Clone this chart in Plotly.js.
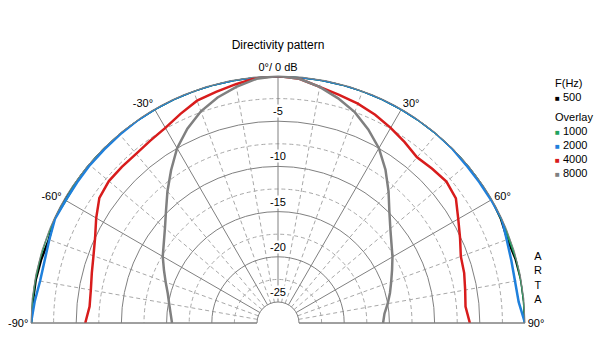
<!DOCTYPE html>
<html><head><meta charset="utf-8">
<script src="https://cdn.plot.ly/plotly-3.0.1.min.js"></script>
<style>html,body{margin:0;padding:0;background:#fff}</style>
</head><body><div id="chart" style="width:609px;height:357px"></div>
<script>
// ---- data ----
const angles = [-90,-85,-80,-75,-70,-65,-60,-55,-50,-45,-40,-35,-30,-25,-20,-15,-10,-5,0,5,10,15,20,25,30,35,40,45,50,55,60,65,70,75,80,85,90];
const f500  = [0,-0.1,-0.1,-0.2,-0.35,0,0,0,0,0,0,0,0,0,0,0,0,0,0,0,0,0,0,0,0,0,0,0,0,0,0,-0.1,-0.3,-0.1,0,0,0];
const f1000 = [0,0,0,0,0,0,-0.2,-0.1,0,0,0,0,0,0,0,0,0,0,0,0,0,0,0,0,0,0,0,0,0,0,0,-0.05,-0.1,0,0,0,0];
const f2000 = [0,-0.3,-0.6,-0.6,-0.4,-0.1,-0.2,-0.2,-0.15,-0.15,-0.1,-0.05,0,0,0,0,0,0,0,0,0,0,0,0,0,0,0,-0.05,-0.15,-0.15,-0.1,0,-0.4,-0.6,-0.7,-0.6,0];
const f4000 = [-6.0,-6.4,-6.3,-6.0,-5.6,-5.0,-4.1,-3.2,-2.9,-2.9,-2.9,-2.7,-2.4,-1.8,-1.15,-0.85,-0.5,-0.1,0,-0.2,-0.8,-1.2,-1.5,-1.9,-2.4,-2.9,-3.4,-3.2,-3.0,-3.3,-4.3,-5.1,-5.8,-6.0,-6.3,-6.5,-6.1];
const f8000 = [-15.6,-15.4,-15.1,-14.7,-14.1,-13.4,-12.6,-11.9,-11.0,-9.8,-8.3,-6.7,-5.0,-3.6,-2.4,-1.5,-0.8,-0.2,0,-0.2,-0.8,-1.6,-2.5,-3.7,-5.0,-6.6,-8.3,-9.9,-11.1,-12.0,-12.7,-13.4,-14.0,-14.5,-15.0,-15.5,-15.7];
const seriesNames = ['500','1000','2000','4000','8000'];
const seriesColors = ['#000000','#1fa35f','#1f80dc','#d81c1c','#808080'];

const radialMajor = [-25,-20,-15,-10,-5];
const radialMajorText = ['-25','-20','-15','-10','-5'];
const radialMinor = [-22.5,-17.5,-12.5,-7.5,-2.5];
const angleMajor = [-90,-60,-30,0,30,60,90];
const angleMajorText = ['-90°','-60°','-30°','0°/ 0 dB','30°','60°','90°'];
const angleMinor = [-80,-70,-50,-40,-20,-10,10,20,40,50,70,80];

// ---- layout geometry ----
const W=609, H=357, cx=278, cy=323, R=247, holePx=21;
const rRange=[-25,0];
const hole = holePx/R;
const domX=[(cx-R)/W,(cx+R)/W], domY=[(H-cy)/H,(H-cy+R)/H];
const FONT = 'Liberation Sans, Arial, sans-serif';

// empty trace so that the dashed-grid subplot is created
const data = [{type:'scatterpolar', subplot:'polar', mode:'lines', r:[], theta:[], showlegend:false, hoverinfo:'skip'}];
[f500,f1000,f2000,f4000,f8000].forEach((vals,i)=>data.push({
  type:'scatterpolar', subplot:'polar2', mode:'lines',
  r: vals, theta: angles, name: seriesNames[i],
  line:{color:seriesColors[i], width:2.5}, showlegend:false, hoverinfo:'skip'
}));

const base = {domain:{x:domX,y:domY}, sector:[0,180], hole:hole};
const layout = {
  width:W, height:H, margin:{l:0,r:0,t:0,b:0},
  paper_bgcolor:'#fff', showlegend:false,
  font:{family:FONT, size:11, color:'#000'},
  title:{text:'Directivity pattern', x:cx/W, xref:'paper', xanchor:'center', y:1-45/H, yanchor:'middle', font:{family:FONT,size:12,color:'#000'}},
  polar:Object.assign({}, base, {
    bgcolor:'#fff',
    radialaxis:{range:rRange, tickmode:'array', tickvals:radialMinor, showticklabels:false, ticks:'', showline:false, gridcolor:'#a8a8a8', gridwidth:1, griddash:'4px,3px'},
    angularaxis:{rotation:90, direction:'clockwise', tickmode:'array', tickvals:angleMinor, showticklabels:false, ticks:'', showline:false, gridcolor:'#a8a8a8', gridwidth:1, griddash:'4px,3px'}
  }),
  polar2:Object.assign({}, base, {
    bgcolor:'rgba(0,0,0,0)',
    radialaxis:{range:rRange, tickmode:'array', tickvals:radialMajor, showticklabels:false, ticks:'', showline:false, gridcolor:'#808080', gridwidth:1},
    angularaxis:{rotation:90, direction:'clockwise', tickmode:'array', tickvals:angleMajor, ticktext:angleMajorText, ticks:'', showline:true, linecolor:'#808080', linewidth:1, gridcolor:'#808080', gridwidth:1, tickfont:{family:FONT,size:11,color:'#000'}}
  }),
  annotations:[]
};

// radial tick labels along the 0° spoke
radialMajor.forEach((t,i)=>{
  const rpx = holePx + (t-rRange[0])/(rRange[1]-rRange[0])*(R-holePx);
  layout.annotations.push({xref:'paper', yref:'paper', x:cx/W, y:(H-cy+rpx)/H, yshift:10, xanchor:'center', yanchor:'middle',
    text:radialMajorText[i], showarrow:false, bgcolor:'#fff', borderpad:0, font:{family:FONT,size:11,color:'#000'}});
});

// legend block
const legX = 553/W;
function legText(txt, ypx){ layout.annotations.push({xref:'paper',yref:'paper',x:legX,y:1-ypx/H,xanchor:'left',yanchor:'middle',text:txt,showarrow:false,font:{family:FONT,size:11,color:'#000'}}); }
legText('F(Hz)', 83);
const legY = [97,131,145,159,173];
seriesNames.forEach((n,i)=>{
  legText('<span style="color:'+seriesColors[i]+';font-size:8px">■</span> '+n, legY[i]);
});
legText('Overlay', 117);
layout.annotations.push({xref:'paper',yref:'paper',x:538/W,y:1-277/H,xanchor:'center',yanchor:'middle',text:'A<br>R<br>T<br>A',showarrow:false,font:{family:FONT,size:11,color:'#000'}});

Plotly.newPlot('chart', data, layout, {displayModeBar:false, staticPlot:true});
</script></body></html>
